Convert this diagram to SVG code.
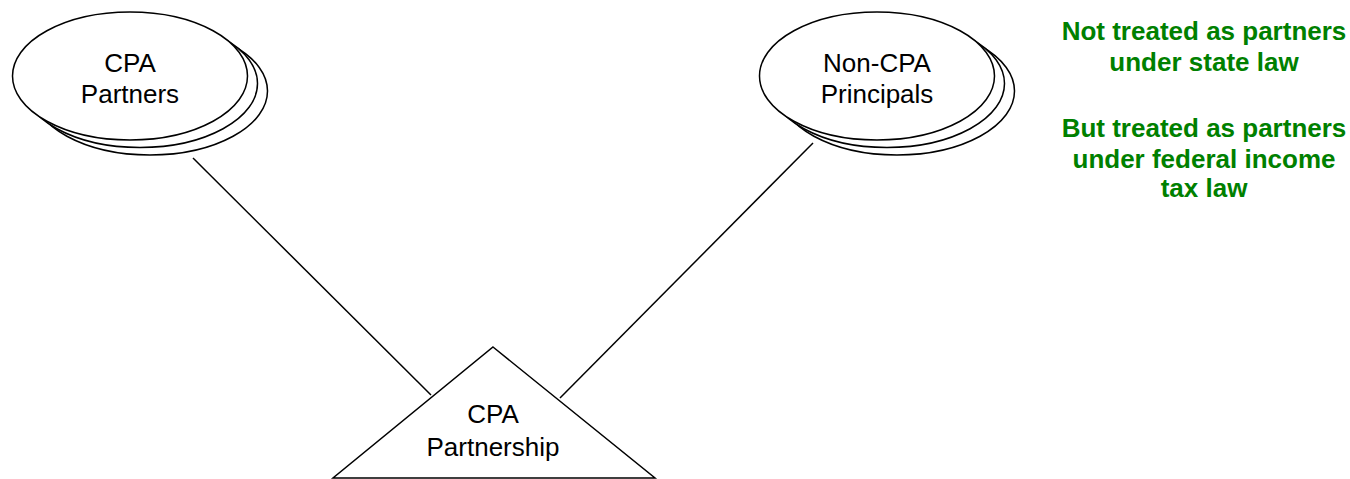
<svg xmlns="http://www.w3.org/2000/svg" width="1350" height="479" viewBox="0 0 1350 479">
<style>
.sh{fill:#fff;stroke:#000;stroke-width:1.5}
.lbl{font-family:"Liberation Sans",Arial,sans-serif;font-size:26px;fill:#000;text-anchor:middle}
.note{font-family:"Liberation Sans",Arial,sans-serif;font-size:26px;font-weight:bold;fill:#008000;text-anchor:middle}
.conn{stroke:#000;stroke-width:1.5;fill:none}
</style>
<rect width="1350" height="479" fill="#fff"/>
<g id="connectors">
<line class="conn" x1="193" y1="158" x2="431" y2="395"/>
<line class="conn" x1="813" y1="143" x2="560" y2="398"/>
</g>
<g id="cpa-partners">
<ellipse class="sh" cx="150" cy="91" rx="117.5" ry="64"/>
<ellipse class="sh" cx="140" cy="83.5" rx="117.5" ry="64"/>
<ellipse class="sh" cx="130" cy="76" rx="117.5" ry="64"/>
<text class="lbl" x="130" y="72">CPA</text>
<text class="lbl" x="130" y="103">Partners</text>
</g>
<g id="non-cpa-principals">
<ellipse class="sh" cx="897" cy="91" rx="117.5" ry="64"/>
<ellipse class="sh" cx="887" cy="83.5" rx="117.5" ry="64"/>
<ellipse class="sh" cx="877" cy="76" rx="117.5" ry="64"/>
<text class="lbl" x="877" y="72">Non-CPA</text>
<text class="lbl" x="877" y="103">Principals</text>
</g>
<g id="cpa-partnership">
<polygon class="sh" points="493,347 655,478 333,478"/>
<text class="lbl" x="493" y="423">CPA</text>
<text class="lbl" x="493" y="456">Partnership</text>
</g>
<g id="note">
<text class="note" x="1204" y="40">Not treated as partners</text>
<text class="note" x="1204" y="71">under state law</text>
<text class="note" x="1204" y="137">But treated as partners</text>
<text class="note" x="1204" y="168">under federal income</text>
<text class="note" x="1204" y="197">tax law</text>
</g>
</svg>
